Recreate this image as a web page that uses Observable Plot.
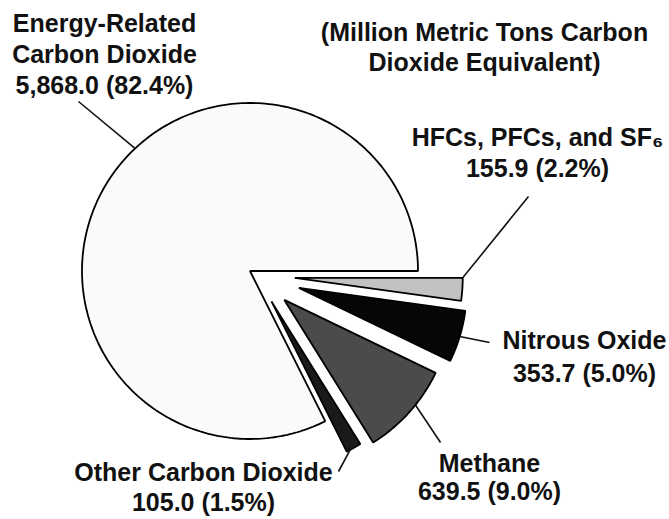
<!DOCTYPE html>
<html><head><meta charset="utf-8">
<script src="https://cdn.jsdelivr.net/npm/d3@7"></script>
<script src="https://cdn.jsdelivr.net/npm/@observablehq/plot@0.6"></script>
<style>body{margin:0;background:#fff} #chart{width:669px;height:519px;overflow:hidden}</style>
</head><body><div id="chart"></div>
<script>
// ---- data ----
const categories = ["HFCs, PFCs, and SF\u2086", "Nitrous Oxide", "Methane", "Other Carbon Dioxide", "Energy-Related Carbon Dioxide"];
const values = [155.9, 353.7, 639.5, 105.0, 5868.0];
const shares = [2.2, 5.0, 9.0, 1.5, 82.4];
const labelNames = [["HFCs, PFCs, and SF\u2086"], ["Nitrous Oxide"], ["Methane"], ["Other Carbon Dioxide"], ["Energy-Related", "Carbon Dioxide"]];
const titleLines = ["(Million Metric Tons Carbon", "Dioxide Equivalent)"];

// ---- layout / style ----
const W = 669, H = 519, R = 168;
const P = [256.3, 274.7];
const explode = [38, 44, 37, 30, 8];
const colors = ["#c2c2c2", "#060606", "#4b4b4b", "#1a1a1a", "#fafafa"];
const leaderLayout = [
  {frac: 0.0, end: [528, 196]},
  {frac: 0.5, end: [489, 342]},
  {frac: 0.4, end: [440, 442]},
  {frac: 0.75, end: [338, 471]},
  {frac: 0.551, end: [78, 101]}
];
const labelLayout = [
  {x: 537, y: 137, lh: 31},
  {x: 584, y: 340, lh: 33},
  {x: 489, y: 463, lh: 28},
  {x: 203, y: 472, lh: 30},
  {x: 104, y: 23, lh: 31}
];
const titleLayout = {x: 484, y: 32, lh: 30};

// ---- geometry from values ----
const total = d3.sum(values);
let acc = 0;
const slices = values.map((v, i) => {
  const a0 = acc / total * 2 * Math.PI; acc += v;
  const a1 = acc / total * 2 * Math.PI;
  const m = (a0 + a1) / 2;
  const apex = [P[0] + explode[i] * Math.cos(m), P[1] + explode[i] * Math.sin(m)];
  return {i, name: categories[i], a0, a1, apex};
});
const polyRows = [];
const drawOrder = [4, 0, 1, 2, 3];
for (const i of drawOrder) {
  const s = slices[i];
  polyRows.push({name: s.name, x: s.apex[0], y: s.apex[1]});
  const n = Math.max(8, Math.ceil((s.a1 - s.a0) / 0.02));
  for (let k = 0; k <= n; k++) {
    const a = s.a0 + (s.a1 - s.a0) * k / n;
    polyRows.push({name: s.name, x: s.apex[0] + R * Math.cos(a), y: s.apex[1] + R * Math.sin(a)});
  }
}
const leaders = slices.map((s, i) => {
  const a = s.a0 + (s.a1 - s.a0) * leaderLayout[i].frac;
  return {x1: s.apex[0] + R * Math.cos(a), y1: s.apex[1] + R * Math.sin(a), x2: leaderLayout[i].end[0], y2: leaderLayout[i].end[1]};
});
const fmt = d3.format(",.1f");
const textRows = [];
labelNames.forEach((lines, i) => {
  const L = labelLayout[i];
  const all = [...lines, `${fmt(values[i])} (${shares[i].toFixed(1)}%)`];
  all.forEach((t, k) => textRows.push({x: L.x, y: L.y + k * L.lh, text: t}));
});
titleLines.forEach((t, k) => textRows.push({x: titleLayout.x, y: titleLayout.y + k * titleLayout.lh, text: t}));

const plot = Plot.plot({
  width: W, height: H, margin: 0,
  x: {type: "linear", domain: [0, W], range: [0, W], axis: null},
  y: {type: "linear", domain: [0, H], range: [0, H], axis: null},
  color: {type: "ordinal", domain: categories, range: colors},
  style: {background: "#fff", fontFamily: "'Liberation Sans', Arial, sans-serif"},
  marks: [
    Plot.line(polyRows, {x: "x", y: "y", z: "name", fill: "name", stroke: "#000", strokeWidth: 1.8, strokeLinejoin: "miter", curve: "linear-closed"}),
    Plot.link(leaders, {x1: "x1", y1: "y1", x2: "x2", y2: "y2", stroke: "#111", strokeWidth: 1.6}),
    Plot.text(textRows, {x: "x", y: "y", text: "text", fontSize: 25, fontWeight: "bold", fill: "#111", textAnchor: "middle"})
  ]
});
document.getElementById("chart").appendChild(plot);
</script>
</body></html>
